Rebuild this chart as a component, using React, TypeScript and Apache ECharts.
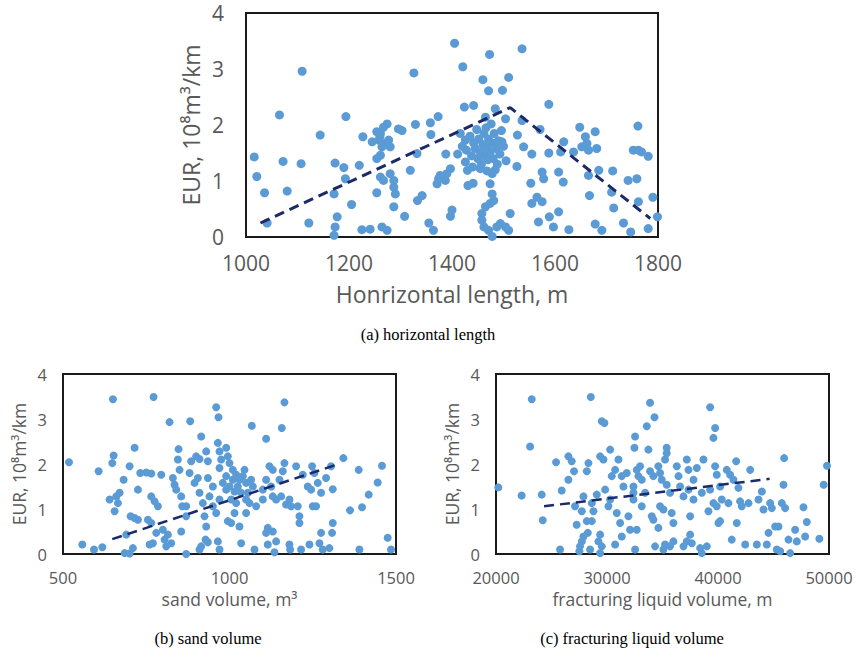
import React, { useEffect, useRef } from "react";
import * as echarts from "echarts";

// (a) horizontal length (m) vs EUR
const lengthX = [1016,1021,1036,1041,1065,1072,1080,1109,1107,1122,1144,1194,1173,1190,1193,1171,1177,1173,1171,1205,1220,1227,1225,1241,1245,1254,1261,1267,1274,1258,1264,1271,1277,1254,1261,1280,1260,1254,1261,1267,1280,1287,1287,1290,1287,1264,1274,1296,1303,1308,1319,1326,1329,1332,1333,1342,1358,1359,1373,1355,1364,1371,1377,1387,1390,1397,1374,1388,1397,1400,1405,1421,1411,1426,1430,1424,1442,1416,1426,1431,1441,1473,1460,1471,1498,1510,1484,1504,1465,1478,1474,1478,1474,1465,1481,1458,1462,1471,1478,1487,1494,1504,1510,1513,1458,1420,1428,1435,1438,1442,1445,1448,1450,1452,1455,1457,1460,1462,1463,1466,1467,1470,1471,1474,1476,1478,1480,1482,1485,1488,1490,1493,1496,1500,1505,1440,1455,1468,1484,1497,1526,1527,1536,1536,1539,1555,1553,1555,1565,1575,1568,1571,1575,1578,1588,1588,1589,1597,1607,1607,1616,1617,1611,1627,1636,1648,1652,1659,1662,1665,1665,1667,1678,1681,1678,1691,1685,1710,1712,1714,1733,1747,1742,1759,1752,1762,1768,1761,1762,1781,1781,1790,1799];
const lengthEUR = [1.43,1.08,0.79,0.25,2.18,1.35,0.82,2.96,1.31,0.25,1.82,2.15,1.32,1.24,1.04,0.77,0.36,0.18,0.03,0.58,1.28,1.79,0.13,0.14,1.70,0.79,1.85,1.96,2.02,1.73,1.61,1.67,1.73,1.40,1.46,1.61,1.79,1.88,1.07,1.01,1.13,1.01,0.89,0.77,0.54,0.18,0.12,1.93,1.90,0.37,1.19,2.93,2.01,1.49,0.65,0.74,2.04,1.83,2.15,0.25,0.12,0.95,1.10,1.01,1.13,1.22,1.04,1.48,0.37,0.48,3.46,3.04,1.48,1.34,1.19,2.32,2.35,1.85,1.73,0.92,0.96,3.26,2.81,2.61,2.62,2.85,2.29,2.11,2.14,1.13,0.95,0.77,0.60,0.54,0.65,0.30,0.18,0.12,0.01,0.18,0.24,0.18,0.12,0.42,0.42,1.62,1.55,1.80,1.45,1.68,1.58,1.92,1.40,1.75,1.52,1.30,1.65,1.85,1.45,1.95,1.60,1.38,1.75,1.52,2.02,1.68,1.40,1.85,1.58,1.30,1.72,1.48,1.90,1.62,1.36,1.25,1.22,1.18,1.20,1.70,1.26,1.82,3.36,2.08,1.61,1.48,0.96,0.60,0.71,0.63,0.27,1.92,1.16,1.04,2.37,1.50,0.36,0.18,0.45,1.16,0.98,1.70,1.52,0.13,1.52,1.96,1.61,1.79,1.67,1.55,1.10,0.74,1.88,1.58,0.23,0.12,1.19,0.80,1.18,0.52,0.25,0.09,1.01,1.04,1.55,1.55,1.52,1.98,0.63,1.44,0.15,0.71,0.36];
const lengthTrendX = [1028, 1513, 1785];
const lengthTrendY = [0.25, 2.31, 0.33];
const lengthTicks = [1000, 1200, 1400, 1600, 1800];

// (b) sand volume (m3) vs EUR
const sandX = [518,558,593,618,607,650,652,648,640,655,665,670,660,682,690,685,700,710,700,703,715,725,715,725,732,750,765,760,770,765,775,785,755,765,772,780,800,805,815,810,825,795,820,830,835,840,847,845,850,855,858,855,870,870,870,880,885,900,910,882,895,905,915,910,920,925,930,928,915,910,935,930,935,935,950,940,960,967,965,970,975,970,965,970,970,950,960,990,995,1000,1010,990,1010,1020,1030,1000,1015,1025,1035,990,980,1040,1050,1005,1020,1050,1045,995,1005,1015,1030,1035,1067,1065,1070,1055,1060,1050,1075,1080,1100,1100,1110,1110,1120,1130,1125,1130,1140,1115,1110,1115,1130,1135,1140,1150,1160,1157,1165,1165,1170,1180,1185,1155,1180,1182,1200,1205,1210,1210,1215,1220,1235,1245,1240,1248,1255,1265,1250,1260,1275,1270,1275,1280,1290,1300,1305,1310,1310,1308,1342,1362,1388,1390,1398,1418,1445,1458,1475,1485];
const sandEUR = [2.04,0.21,0.10,0.15,1.84,3.44,2.19,2.02,1.21,0.95,1.13,1.36,1.28,1.65,0.43,0.02,0.01,0.13,1.95,0.84,0.80,0.76,2.36,1.43,1.80,1.81,1.79,0.21,0.24,1.28,1.17,1.06,0.76,0.69,3.49,0.47,0.54,0.32,0.43,0.17,0.24,1.76,2.93,1.69,1.54,1.43,2.33,2.10,1.87,1.28,1.06,0.50,0.00,0.84,1.06,1.80,2.06,2.17,2.11,2.95,1.58,1.69,2.61,1.36,1.13,0.84,0.61,0.32,0.17,0.10,0.26,2.28,2.06,1.69,1.50,1.28,3.26,3.04,2.47,2.28,2.10,1.91,0.28,0.10,1.21,1.06,0.91,2.36,2.17,2.02,1.87,1.73,1.65,1.76,1.65,1.50,1.39,1.50,1.36,1.43,1.58,1.73,1.58,1.21,1.13,1.21,1.87,0.73,0.69,0.91,0.61,0.24,2.85,1.65,1.50,1.36,1.13,0.91,0.10,1.06,1.21,1.43,2.56,1.65,1.95,1.87,1.50,1.28,1.21,0.58,0.47,0.21,0.50,0.04,0.28,1.65,1.84,2.80,3.37,2.02,1.10,1.21,1.06,1.28,0.21,0.10,1.95,1.06,0.84,0.69,0.10,1.76,1.50,1.43,0.21,1.95,1.80,1.58,1.06,1.06,1.36,0.24,0.47,0.10,1.69,0.13,1.95,1.44,0.69,0.47,2.13,0.97,1.87,0.10,1.04,1.32,1.59,1.96,0.36,0.10];
const sandTrendX = [648, 1332];
const sandTrendY = [0.33, 2.01];
const sandTicks = [500, 1000, 1500];

// (c) fracturing liquid volume vs EUR
const liquidX = [20210,22310,23220,23070,24120,24210,25410,25920,25770,26520,26820,26520,27030,27120,27270,27570,27510,27880,27730,27880,27730,28180,28330,28180,28630,28270,28540,28630,28780,28480,29080,29230,29380,29380,29680,29530,29770,29530,29380,29830,30130,30280,30280,30430,30730,31030,30730,30880,31180,31330,31480,31330,31780,31930,32080,32380,32380,32380,32530,32470,32530,32680,32830,32980,33130,32680,33130,33430,33580,33880,34280,33730,33880,34180,34030,34180,34330,34630,34630,34780,34930,34780,35080,35080,35230,35230,35380,35380,35380,35680,35830,35980,35680,35980,36290,36440,36590,36890,36890,37190,37190,37340,37340,37490,37490,37640,37790,37790,38090,38390,38540,38540,38690,38990,39140,39290,39290,39590,39740,39590,39890,39740,39890,40190,40040,40190,40340,40790,41090,41390,40940,41240,41690,41640,41840,41990,42140,42450,42900,42750,43500,43650,43950,44100,44400,44550,44700,44850,45150,45450,45300,45600,45750,45960,45900,46050,46500,46350,46950,47100,47700,48000,47850,49130,49520,49820];
const liquidEUR = [1.48,1.30,3.44,2.39,1.32,0.75,2.04,1.41,0.10,2.17,2.06,1.65,1.84,1.06,0.65,0.17,0.06,1.28,0.95,0.39,0.28,1.84,2.02,0.73,0.73,0.47,3.49,1.13,0.95,0.10,1.32,0.28,0.43,2.17,2.10,2.95,2.91,0.17,0.02,1.43,1.06,1.21,2.32,1.73,1.87,2.10,0.21,0.91,0.69,1.73,1.50,0.39,1.80,0.84,0.54,1.50,1.36,1.21,2.61,2.36,0.10,1.87,1.73,1.95,1.65,0.54,1.06,1.36,2.84,3.36,3.04,2.32,1.84,1.73,0.84,0.76,0.17,0.58,1.95,1.80,1.65,1.06,0.99,0.10,0.21,2.10,2.24,2.36,1.54,1.36,0.91,0.69,0.17,0.28,1.95,1.73,1.50,1.28,0.17,0.28,2.10,1.87,1.43,0.84,0.43,0.24,1.65,1.21,1.91,0.13,0.02,1.36,2.10,0.17,0.95,3.26,1.43,2.58,2.80,1.13,1.06,1.95,1.76,1.50,0.69,0.73,1.21,1.87,1.76,1.65,1.13,0.32,0.69,2.06,1.47,1.17,1.06,0.21,1.87,1.13,0.21,1.21,1.39,0.99,0.21,0.47,1.13,1.02,0.61,0.61,0.10,0.06,1.13,2.13,1.54,1.02,0.02,0.32,0.54,0.28,1.04,0.71,0.39,0.34,1.54,1.96];
const liquidTrendX = [24330, 44650];
const liquidTrendY = [1.06, 1.67];
const liquidTicks = [20000, 30000, 40000, 50000];

const eurTicks = [0, 1, 2, 3, 4];

const zip = (xs: number[], ys: number[]) => xs.map((x, i) => [x, ys[i]]);

const DOT = "#5B9BD5";
const TREND = "#1C2A6A";
const LABEL = "#595959";
const FONT = "Open Sans";

export default function App() {
  const ref = useRef<HTMLDivElement>(null);
  useEffect(() => {
    if (!ref.current) return;
    const chart = echarts.init(ref.current, undefined, { renderer: "svg" });

    const grids = [
      { left: 246, top: 13, width: 412, height: 224 },
      { left: 63, top: 374, width: 333, height: 180 },
      { left: 496, top: 374, width: 333, height: 180 },
    ].map((g) => ({ ...g, show: true, borderColor: "#1a1a1a", borderWidth: 2, backgroundColor: "#fff" }));

    const tickFs = [21, 16.5, 16.5];
    const nameFs = [23, 17.5, 17.5];
    const xDefs = [
      { ticks: lengthTicks, name: "Honrizontal length, m", gap: 45, margin: 15 },
      { ticks: sandTicks, name: "sand volume, m³", gap: 36, margin: 15 },
      { ticks: liquidTicks, name: "fracturing liquid volume, m", gap: 36, margin: 15 },
    ];
    const xAxis = xDefs.map((d, i) => ({
      type: "value",
      gridIndex: i,
      min: d.ticks[0],
      max: d.ticks[d.ticks.length - 1],
      interval: d.ticks[1] - d.ticks[0],
      name: d.name,
      nameLocation: "middle",
      nameGap: d.gap,
      nameTextStyle: { color: LABEL, fontFamily: FONT, fontSize: nameFs[i], lineHeight: nameFs[i] },
      axisLine: { show: false },
      axisTick: { show: false },
      splitLine: { show: false },
      axisLabel: {
        color: LABEL,
        fontFamily: FONT,
        fontSize: tickFs[i],
        lineHeight: tickFs[i],
        margin: d.margin,
        formatter: (v: number) => String(v),
      },
    }));
    const yGaps = [44, 35, 35];
    const yMargins = [22, 16, 16];
    const yAxis = [0, 1, 2].map((i) => ({
      type: "value",
      gridIndex: i,
      min: eurTicks[0],
      max: eurTicks[eurTicks.length - 1],
      interval: 1,
      name: "EUR, 10⁸m³/km",
      nameLocation: "middle",
      nameGap: yGaps[i],
      nameRotate: 90,
      nameTextStyle: { color: LABEL, fontFamily: FONT, fontSize: nameFs[i] },
      axisLine: { show: false },
      axisTick: { show: false },
      splitLine: { show: false },
      axisLabel: { color: LABEL, fontFamily: FONT, fontSize: tickFs[i], margin: yMargins[i] },
    }));

    const scatter = (data: number[][], i: number, size: number) => ({
      type: "scatter",
      xAxisIndex: i,
      yAxisIndex: i,
      data,
      symbolSize: size,
      itemStyle: { color: DOT, opacity: 1 },
      silent: true,
    });
    const trend = (data: number[][], i: number, w: number) => ({
      type: "line",
      xAxisIndex: i,
      yAxisIndex: i,
      data,
      symbol: "none",
      lineStyle: { color: TREND, width: w, type: [10, 6] },
      silent: true,
      z: 5,
    });

    const caption = (text: string, x: number, y: number) => ({
      type: "text",
      x,
      y,
      style: {
        text,
        fill: "#000",
        font: "16.5px 'Liberation Serif'",
        align: "center",
        verticalAlign: "middle",
        textAlign: "center",
        textVerticalAlign: "middle",
      },
    });

    chart.setOption({
      animation: false,
      backgroundColor: "#fff",
      grid: grids,
      xAxis,
      yAxis,
      series: [
        scatter(zip(lengthX, lengthEUR), 0, 9),
        scatter(zip(sandX, sandEUR), 1, 8),
        scatter(zip(liquidX, liquidEUR), 2, 8),
        trend(zip(lengthTrendX, lengthTrendY), 0, 3),
        trend(zip(sandTrendX, sandTrendY), 1, 2.5),
        trend(zip(liquidTrendX, liquidTrendY), 2, 2.5),
      ],
      graphic: [
        caption("(a) horizontal length", 428, 334),
        caption("(b) sand volume", 208, 638),
        caption("(c) fracturing liquid volume", 632, 638),
      ],
    });
    return () => chart.dispose();
  }, []);
  return (
    <div
      ref={ref}
      style={{ position: "fixed", left: 0, top: 0, width: 856, height: 650, background: "#fff" }}
    />
  );
}
